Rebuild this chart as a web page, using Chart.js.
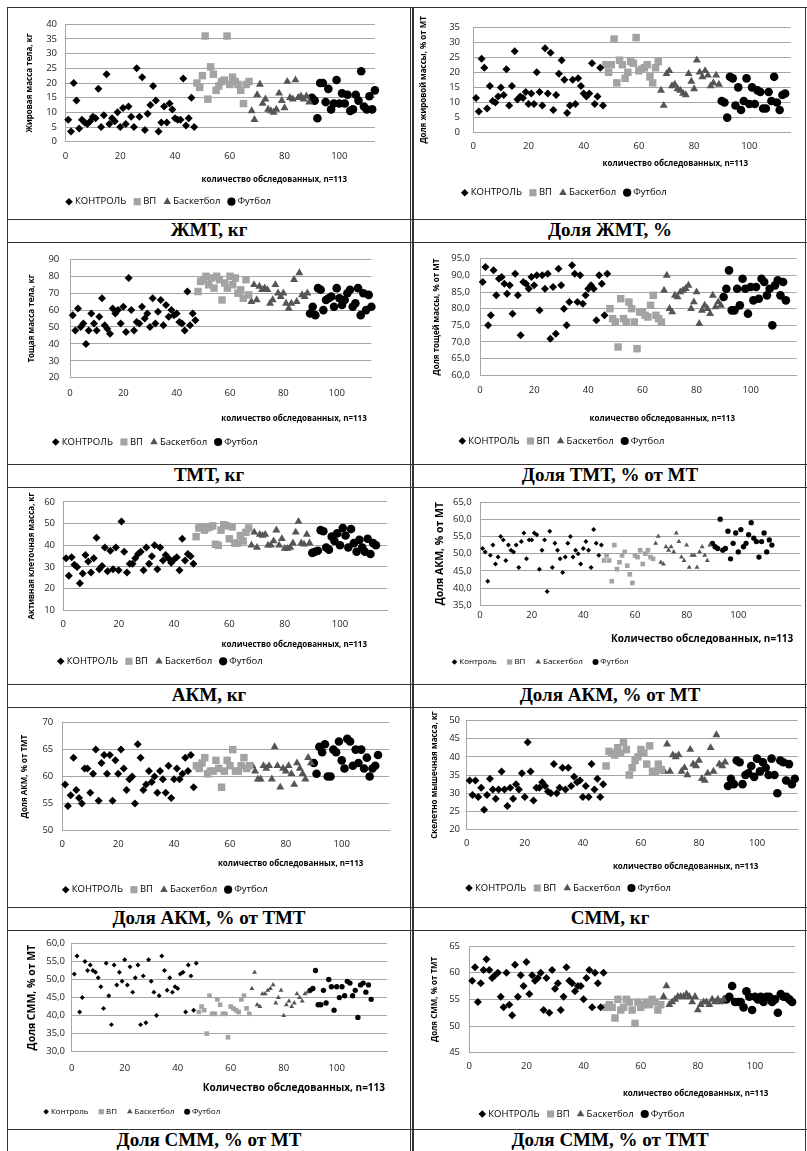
<!DOCTYPE html>
<html>
<head>
<meta charset="utf-8">
<script src="https://cdn.jsdelivr.net/npm/chart.js@4.4.1/dist/chart.umd.min.js"></script>
<style>
  body { margin: 0; background: #fff; }
  #page { position: relative; width: 807px; height: 1151px; overflow: hidden; background: #fff; }
  .ln { position: absolute; background: #333; }
  .cap { position: absolute; font: bold 19px "Liberation Serif", "Times New Roman", serif; color: #000; text-align: center; line-height: 20px; }
  canvas { position: absolute; }
</style>
</head>
<body>
<div id="page"></div>
<script>
// groups
const groupLabels = ['КОНТРОЛЬ', 'ВП', 'Баскетбол', 'Футбол'];
const groupLabelsLower = ['Контроль', 'ВП', 'Баскетбол', 'Футбол'];

// ЖМТ, кг
const zhmtKontrol = [7.5, 3.5, 20, 14, 4.5, 7.5, 6.5, 6, 7, 8.5, 8, 18, 5, 9, 23, 6, 8, 7, 10, 5, 11.5, 6, 12, 8.5, 5, 25, 8.5, 22, 4, 9.5, 12.5, 19, 14, 3.5, 6.5, 12, 6.5, 13, 11, 8, 7.5, 7.5, 21.5, 5.5, 8, 15, 5];
const zhmtVP = [20, 18.5, 22.5, 36, 14.5, 25.5, 23, 17.5, 19, 20.5, 21, 36, 19.5, 22, 20.5, 19.5, 17.5, 13, 19.5, 20.5];
const zhmtBasket = [10.5, 7.5, 16, 19.5, 13, 14.5, 11, 10.5, 10, 11, 16.5, 14, 11.5, 20.5, 15, 14.5, 21, 15, 15.5, 14.5, 15.5, 13.5];
const zhmtFutbol = [15, 14, 8, 20, 20, 13.5, 18, 11, 13, 21, 13, 16.5, 13, 16, 10.5, 11, 16, 14, 24, 12, 11, 15.5, 11, 17.5];

// Доля ЖМТ, %
const dZhmtKontrol = [11.5, 7, 24.5, 21.5, 8, 15.5, 10.5, 10, 12, 15, 12.5, 21, 9, 15.5, 27, 11, 12, 11.5, 13.5, 9.5, 13, 9.5, 20, 13.5, 9, 28, 13, 26.5, 7.5, 12.5, 19.5, 24, 17.5, 6.5, 9, 17.5, 9.5, 18, 15.5, 13, 12, 13, 23, 9.5, 12, 21.5, 9];
const dZhmtVP = [22.5, 20, 22.5, 31, 16.5, 24, 22.5, 18, 20, 23.5, 23, 31.5, 20.5, 21, 21.5, 22.5, 18.5, 16.5, 21.5, 23.5];
const dZhmtBasket = [14, 9, 19.5, 20.5, 15.5, 16, 14.5, 14, 13, 12.5, 19.5, 17, 14.5, 24, 20, 18.5, 20.5, 19, 15.5, 16.5, 19, 16];
const dZhmtFutbol = [10.5, 10, 5, 18.5, 18, 9, 15, 7.5, 10.5, 18, 9.5, 15, 9.5, 14, 13.5, 8, 8, 13.5, 10.5, 18.5, 10, 7.5, 12.5, 13];

// ТМТ, кг
const tmtKontrol = [57, 48, 61, 50, 52, 40, 48, 58, 52, 48, 56, 67, 51, 49, 46, 61, 58, 60, 52, 62, 47, 79, 60, 48, 53, 52, 62, 55, 58, 50, 67, 52, 59, 66, 51, 63, 56, 60, 57, 58, 53, 52, 48, 71, 51, 58, 54];
const tmtVP = [71, 77, 78, 80, 75, 79, 73, 80, 78, 66, 76, 73, 80, 75, 79, 70, 72, 67, 78, 69];
const tmtBasket = [65, 75, 66, 74, 72, 73, 72, 64, 66, 75, 70, 68, 70, 64, 61, 64, 78, 65, 82, 69, 68, 70];
const tmtFutbol = [58, 62, 57, 73, 72, 60, 66, 67, 68, 62, 73, 67, 63, 66, 70, 72, 62, 64, 73, 57, 70, 60, 69, 62];

// Доля ТМТ, % от МТ
const dTmtKontrol = [88, 92.5, 75, 78, 91.5, 84, 89, 89.5, 87.5, 84.5, 87, 78.5, 90.5, 84, 72, 88, 87.5, 86, 89.5, 87, 90, 79.5, 90, 86, 90.5, 71, 86.5, 72.5, 92, 87, 80, 75, 82, 93, 90.5, 82, 90, 81.5, 84, 86, 87, 86, 76.5, 90, 87.5, 78, 90.5];
const dTmtVP = [80, 77, 76, 68.5, 83, 77, 76, 82, 80, 76, 68, 79, 79, 78, 77.5, 81, 84, 78, 77, 76];
const dTmtBasket = [85.5, 90, 80, 79, 84, 83.5, 85, 85.5, 86, 87, 80, 82, 85, 75.5, 79.5, 81, 80, 78.5, 84, 80.5, 82, 81];
const dTmtFutbol = [83.5, 86, 91.5, 79.5, 79.5, 86, 81, 89, 86, 78.5, 86.5, 82.5, 86.5, 83, 89, 88, 84, 86, 75, 87, 88.5, 84, 88, 82.5];

// АКМ, кг
const akmKontrol = [34, 26, 34.5, 31, 30, 22.5, 27, 35.5, 32.5, 27.5, 34, 43.5, 29, 30.5, 39, 28, 37.5, 29, 39, 28.5, 51, 37, 27.5, 31.5, 31.5, 34, 36, 37, 28.5, 39, 31.5, 35, 40, 29, 39, 33, 35.5, 34, 32, 33.5, 34.5, 28.5, 43, 33, 36, 35, 31.5];
const akmVP = [44, 48, 48.5, 47, 48, 48.5, 49, 40.5, 40, 47, 49.5, 49, 43, 48.5, 41, 41, 44.5, 42, 46, 48];
const akmBasket = [40, 46, 39, 45, 44.5, 45, 40, 40, 42, 47, 40, 43, 38.5, 38.5, 39, 41, 46, 51, 41, 40.5, 45, 41];
const akmFutbol = [36.5, 37, 37.5, 47, 46.5, 39, 38, 44, 42, 45.5, 40, 48, 44.5, 39, 47.5, 41, 37, 42.5, 39, 37, 43, 36, 41, 40];

// Доля АКМ, % от МТ
const dAkmMtKontrol = [51.5, 50.5, 42, 49.5, 52.5, 47, 49, 55, 54, 48, 52.5, 51, 50.5, 52.5, 46, 53.5, 56, 48.5, 54, 54, 56, 55.5, 45.5, 51, 54, 39, 56.5, 46, 53, 51, 48.5, 44.5, 49, 53, 55, 49, 51, 50, 47, 51.5, 53.5, 51, 46, 57, 53, 49.5, 52.5];
const dAkmMtVP = [48, 49.5, 48, 42, 52.5, 45.5, 47.5, 49.5, 50.5, 46.5, 44, 41.5, 49.5, 49, 51, 47, 50, 51, 49, 48.5];
const dAkmMtBasket = [53, 55, 47.5, 47, 52, 51, 52, 50.5, 56, 53.5, 49, 48, 52.5, 46, 49.5, 49.5, 46, 50.5, 52, 49.5, 48, 52.5];
const dAkmMtFutbol = [53, 52, 51.5, 60, 51, 51.5, 56.5, 48.5, 53, 56, 50.5, 57, 52, 53, 55.5, 59, 54.5, 53.5, 49, 53.5, 56, 50.5, 54, 52.5];

// Доля АКМ, % от ТМТ
const dAkmTmtKontrol = [58.5, 54.5, 56.5, 63.5, 57.5, 56, 55, 61.5, 61.5, 57, 60.5, 65, 55.5, 62.5, 64, 60.5, 64, 55.5, 63, 60.5, 65, 61.5, 57.5, 59.5, 60, 55, 66, 63.5, 57.5, 58.5, 61, 59, 60, 57, 61, 59.5, 57, 62, 56, 59.5, 61.5, 59.5, 60.5, 63.5, 61, 64, 58];
const dAkmTmtVP = [62, 61.5, 62.5, 63.5, 60.5, 61, 61, 63, 61.5, 58, 61, 63, 62, 65, 61, 61, 62, 63.5, 61.5, 62];
const dAkmTmtBasket = [62, 61, 59.5, 59.5, 62, 61.5, 62, 59.5, 65.5, 62, 58, 61.5, 61, 62, 60.5, 58.5, 62.5, 61.5, 60.5, 59.5, 63.5, 62.5];
const dAkmTmtFutbol = [62.5, 60.5, 65.5, 64.5, 66, 60, 60, 65, 64.5, 66.5, 63, 61.5, 67, 66.5, 62, 65, 62.5, 65, 61.5, 63.5, 60, 61.5, 62, 64];

// СММ, кг
const smmKontrol = [33.5, 29.5, 33.5, 29, 31.5, 25.5, 29.5, 34, 31, 28.5, 31, 36, 31, 26.5, 31.5, 28.5, 32.5, 31, 35.5, 29, 44, 36, 28, 31.5, 31.5, 33, 32, 30.5, 30, 38, 30, 31.5, 37, 31, 37, 32, 34.5, 33, 33.5, 29, 32, 29, 38, 31, 34, 29, 32.5];
const smmVP = [37.5, 41.5, 41, 40.5, 42.5, 41, 44, 42, 35, 37, 39, 40, 42, 41, 38, 43, 36, 36, 38, 36.5];
const smmBasket = [36, 43.5, 36, 40.5, 40, 40.5, 36, 37, 35, 42, 38, 37.5, 39, 34, 33.5, 35.5, 42.5, 36, 46, 38, 37.5, 38.5];
const smmFutbol = [32, 34, 32.5, 39, 38.5, 32.5, 35, 35.5, 37.5, 34.5, 39.5, 36, 38.5, 37, 35, 39.5, 35, 30, 39, 38.5, 33.5, 38, 32.5, 34];

// Доля СММ, % от МТ
const dSmmMtKontrol = [51.5, 56.5, 41, 45, 55, 52.5, 54, 52.5, 52, 50.5, 48, 42, 54.5, 45.5, 37.5, 54, 48.5, 52, 49.5, 55.5, 48.5, 53.5, 46.5, 50.5, 54, 37.5, 51, 38, 55.5, 49.5, 46.5, 40, 45.5, 56.5, 52.5, 47, 50.5, 46.5, 48, 47.5, 51.5, 52, 41, 54, 51, 41.5, 54.5];
const dSmmMtVP = [41, 42.5, 41.5, 35, 45.5, 40.5, 40.5, 44.5, 43, 40.5, 40.5, 34, 42.5, 42, 41.5, 41, 44.5, 45.5, 42, 40.5];
const dSmmMtBasket = [47.5, 52, 43, 42.5, 46, 46, 47, 47.5, 48.5, 43.5, 45, 47, 40, 43, 44, 42.5, 43.5, 46, 45, 44, 46, 46.5];
const dSmmMtFutbol = [47, 47.5, 52.5, 43, 43, 47, 43.5, 50, 48, 41.5, 48, 45, 48, 45.5, 49.5, 49, 45.5, 47, 39.5, 48.5, 49, 46.5, 48.5, 44.5];

// Доля СММ, % от ТМТ
const dSmmTmtKontrol = [58.5, 61, 54.5, 58, 60.5, 62.5, 60.5, 59, 59.5, 60, 55.5, 53.5, 60, 54, 52, 61.5, 55.5, 59.5, 57.5, 62, 56, 59.5, 58.5, 59, 60, 53, 59, 52.5, 60.5, 57, 58, 53, 55.5, 61, 58.5, 58, 56.5, 57.5, 57.5, 55, 59, 60.5, 53.5, 60, 58, 53.5, 60];
const dSmmTmtVP = [53.5, 54, 53.5, 51.5, 55, 53, 53.5, 55, 54.5, 53, 50.5, 54.5, 53.5, 54, 54.5, 54, 55, 54.5, 53, 54];
const dSmmTmtBasket = [55.5, 57.5, 54, 54.5, 55, 55.5, 55.5, 55.5, 56, 55.5, 54.5, 55.5, 53, 54, 54.5, 54.5, 54, 55, 54.5, 55, 54.5, 55];
const dSmmTmtFutbol = [55, 55.5, 57.5, 54.5, 54.5, 54.5, 53.5, 56.5, 55.5, 53, 55.5, 55, 55.5, 54.5, 55.5, 55.5, 54.5, 55, 52.5, 56, 55.5, 55.5, 55, 54.5];

const xTitleLower = 'количество обследованных, n=113';
const xTitleUpper = 'Количество обследованных, n=113';

const charts = [
  { caption: 'ЖМТ, кг', yTitle: 'Жировая масса тела, кг', yMin: 0, yMax: 40, yStep: 5, series: [zhmtKontrol, zhmtVP, zhmtBasket, zhmtFutbol] },
  { caption: 'Доля ЖМТ, %', yTitle: 'Доля жировой массы, % от МТ', yMin: 0, yMax: 35, yStep: 5, series: [dZhmtKontrol, dZhmtVP, dZhmtBasket, dZhmtFutbol] },
  { caption: 'ТМТ, кг', yTitle: 'Тощая масса тела, кг', yMin: 20, yMax: 90, yStep: 10, series: [tmtKontrol, tmtVP, tmtBasket, tmtFutbol] },
  { caption: 'Доля ТМТ, % от МТ', yTitle: 'Доля тощей массы, % от МТ', yMin: 60, yMax: 95, yStep: 5, dec: true, series: [dTmtKontrol, dTmtVP, dTmtBasket, dTmtFutbol] },
  { caption: 'АКМ, кг', yTitle: 'Активная клеточная масса, кг', yMin: 10, yMax: 60, yStep: 10, series: [akmKontrol, akmVP, akmBasket, akmFutbol] },
  { caption: 'Доля АКМ, % от МТ', yTitle: 'Доля АКМ, % от МТ', yMin: 35, yMax: 65, yStep: 5, dec: true, small: true, series: [dAkmMtKontrol, dAkmMtVP, dAkmMtBasket, dAkmMtFutbol] },
  { caption: 'Доля АКМ, % от ТМТ', yTitle: 'Доля АКМ, % от ТМТ', yMin: 50, yMax: 70, yStep: 5, series: [dAkmTmtKontrol, dAkmTmtVP, dAkmTmtBasket, dAkmTmtFutbol] },
  { caption: 'СММ, кг', yTitle: 'Скелетно мышечная масса, кг', yMin: 20, yMax: 50, yStep: 5, series: [smmKontrol, smmVP, smmBasket, smmFutbol] },
  { caption: 'Доля СММ, % от МТ', yTitle: 'Доля СММ, % от МТ', yMin: 30, yMax: 60, yStep: 5, dec: true, small: true, series: [dSmmMtKontrol, dSmmMtVP, dSmmMtBasket, dSmmMtFutbol] },
  { caption: 'Доля СММ, % от ТМТ', yTitle: 'Доля СММ, % от ТМТ', yMin: 45, yMax: 65, yStep: 5, series: [dSmmTmtKontrol, dSmmTmtVP, dSmmTmtBasket, dSmmTmtFutbol] },
];

// page geometry (pixels in the 807x1151 page)
const colX = [[8, 410], [414, 806]];
const rowTops = [8, 243, 488, 708, 931];
const seps = [219, 464, 684, 907, 1129];
const capY = [230, 475, 695, 918, 1140];

const layouts = [
  { c: 0, r: 0, L: 65.5, T: 24.3, B: 141.7, X100: 339.3, xmax: 113, tickR: 57, yTX: 29.3, xTY: 156.7, xTitY: 180, xTitR: 347, legY: 201.7, legX: 65 },
  { c: 1, r: 0, L: 473.3, T: 20.7, B: 132.7, X100: 749.3, xmax: 115, tickR: 460, yTX: 423.3, xTY: 146.7, xTitY: 164, xTitR: 748, legY: 192.7, legX: 460.7 },
  { c: 0, r: 1, L: 70, T: 252, B: 377.7, X100: 336.7, xmax: 113, tickR: 59.3, yTX: 31.7, xTY: 393.7, xTitY: 418.7, xTitR: 366.7, legY: 442, legX: 51.7 },
  { c: 1, r: 1, L: 480, T: 258, B: 375.3, X100: 753.3, xmax: 117, tickR: 470, yTX: 436.7, xTY: 390.3, xTitY: 418.7, xTitR: 735, legY: 441, legX: 458.3 },
  { c: 0, r: 2, L: 63.3, T: 500.3, B: 610.3, X100: 340, xmax: 117, tickR: 55, yTX: 31.7, xTY: 624.7, xTitY: 644.7, xTitR: 367, legY: 661.3, legX: 56.7 },
  { c: 1, r: 2, L: 480, T: 497, B: 605.3, X100: 738.3, xmax: 124, tickR: 471.7, yTX: 440, xTY: 615.3, xTitY: 638.7, xTitR: 793.3, legY: 662, legX: 451.7 },
  { c: 0, r: 3, L: 62.3, T: 719.7, B: 830.3, X100: 341.7, xmax: 117, tickR: 53.3, yTX: 25, xTY: 844.7, xTitY: 863.7, xTitR: 363.3, legY: 889.7, legX: 61.7 },
  { c: 1, r: 3, L: 466.7, T: 718.7, B: 829.7, X100: 757.3, xmax: 114, tickR: 460, yTX: 435, xTY: 843.7, xTitY: 866.3, xTitR: 758.3, legY: 888, legX: 465 },
  { c: 0, r: 4, L: 71.7, T: 942.7, B: 1051.7, X100: 336.7, xmax: 119, tickR: 65, yTX: 31.7, xTY: 1068.3, xTitY: 1088.3, xTitR: 385, legY: 1111.7, legX: 43.3 },
  { c: 1, r: 4, L: 469.3, T: 941.7, B: 1052.7, X100: 755, xmax: 114, tickR: 460, yTX: 435, xTY: 1066.7, xTitY: 1094, xTitR: 768.3, legY: 1114, legX: 478.3 },
];

// marker looks per group: diamond, square, triangle, circle
const markStyle = ['rectRot', 'rect', 'triangle', 'circle'];
const markColor = ['#000000', '#a3a3a3', '#555555', '#000000'];
const markSize = [4, 5.3, 4.6, 4.3];

Chart.defaults.font.family = '"Open Sans", "Liberation Sans", sans-serif';
Chart.defaults.color = '#222';

const page = document.getElementById('page');

function line(x, y, w, h) {
  const d = document.createElement('div');
  d.className = 'ln';
  d.style.left = x + 'px'; d.style.top = y + 'px';
  d.style.width = w + 'px'; d.style.height = h + 'px';
  page.appendChild(d);
}

// table frame
line(7, 7, 800, 1);
line(7, 7, 1, 1144);
line(805, 7, 1, 1144);
line(410, 7, 1, 1144);
line(412, 7, 2, 1144);
rowTops.slice(1).forEach(y => line(7, y - 1, 800, 1));
seps.forEach(y => line(7, y, 800, 1));

function drawMark(ctx, style, r, x, y) {
  Chart.helpers.drawPoint(ctx, { pointStyle: style, radius: r, borderWidth: 0, rotation: 0 }, x, y);
}

// x-axis title and legend, placed where the original puts them
const decor = {
  id: 'decor',
  afterDraw(chart, args, o) {
    const ctx = chart.ctx;
    ctx.save();
    ctx.textBaseline = 'middle';
    ctx.fillStyle = '#000';
    ctx.font = o.xFont;
    ctx.textAlign = 'right';
    ctx.fillText(o.xTitle, o.xTitR, o.xTitY);
    ctx.font = o.legFont;
    ctx.textAlign = 'left';
    let x = o.legX;
    chart.data.datasets.forEach((ds, i) => {
      ctx.fillStyle = ds.backgroundColor;
      drawMark(ctx, ds.pointStyle, markSize[i] * o.legScale, x + o.legR, o.legY);
      ctx.fillStyle = '#000';
      ctx.fillText(ds.label, x + 2 * o.legR + 2, o.legY);
      x += 2 * o.legR + 2 + ctx.measureText(ds.label).width + o.legSpace;
    });
    ctx.restore();
  }
};

const XH = 20;
const tickFont = 9.5;

charts.forEach((cfg, k) => {
  const g = layouts[k];
  const x0 = colX[g.c][0], w = colX[g.c][1] - colX[g.c][0];
  const y0 = rowTops[g.r], h = seps[g.r] - rowTops[g.r];
  const plotRight = g.L + (g.X100 - g.L) * g.xmax / 100;
  const small = !!cfg.small;
  const yTitleSize = small ? 10.5 : 8;
  const labels = small ? groupLabelsLower : groupLabels;

  const canvas = document.createElement('canvas');
  canvas.width = w; canvas.height = h;
  canvas.style.left = x0 + 'px'; canvas.style.top = y0 + 'px';
  canvas.style.width = w + 'px'; canvas.style.height = h + 'px';
  page.appendChild(canvas);

  let offset = 0;
  const datasets = cfg.series.map((vals, i) => {
    const start = offset;
    offset += vals.length;
    return {
      label: labels[i],
      data: vals.map((v, j) => ({ x: start + j + 1, y: v })),
      pointStyle: markStyle[i],
      backgroundColor: markColor[i],
      borderWidth: 0,
      pointRadius: markSize[i] * (small ? 0.62 : 1),
      clip: false
    };
  });

  new Chart(canvas, {
    type: 'scatter',
    data: { datasets },
    options: {
      responsive: false,
      animation: false,
      devicePixelRatio: 1,
      layout: { padding: { left: 0, top: g.T - y0, right: x0 + w - plotRight, bottom: y0 + h - g.B - XH } },
      plugins: {
        legend: { display: false },
        tooltip: { enabled: false },
        decor: {
          xTitle: small ? xTitleUpper : xTitleLower,
          xFont: 'bold ' + (small ? 10 : 8) + 'px "Open Sans", sans-serif',
          xTitR: g.xTitR - x0, xTitY: g.xTitY - y0,
          legFont: (small ? 8 : 9.5) + 'px "Open Sans", sans-serif',
          legX: g.legX - x0, legY: g.legY - y0,
          legR: small ? 2.8 : 4, legScale: small ? 0.7 : 0.95, legSpace: small ? 10 : 7
        }
      },
      scales: {
        x: {
          type: 'linear', min: 0, max: g.xmax,
          grid: { display: false, drawTicks: false },
          border: { display: true, color: '#a6a6a6' },
          ticks: {
            stepSize: 20,
            font: { size: tickFont },
            padding: g.xTY - g.B - tickFont * 0.6,
            maxRotation: 0,
            callback: v => (v % 20 === 0 ? String(v) : '')
          },
          afterFit: s => { s.height = XH; }
        },
        y: {
          min: cfg.yMin, max: cfg.yMax,
          grid: { color: '#a6a6a6', drawTicks: false },
          border: { display: true, color: '#a6a6a6' },
          ticks: {
            stepSize: cfg.yStep,
            font: { size: tickFont },
            padding: g.L - g.tickR,
            callback: v => (cfg.dec ? v.toFixed(1).replace('.', ',') : String(v))
          },
          title: {
            display: true,
            text: cfg.yTitle,
            color: '#000',
            font: { size: yTitleSize, weight: 'bold' },
            padding: { top: g.yTX - x0 - yTitleSize * 0.6, bottom: 0 }
          },
          afterFit: s => { s.width = g.L - x0; }
        }
      }
    },
    plugins: [decor]
  });

  const cap = document.createElement('div');
  cap.className = 'cap';
  cap.textContent = cfg.caption;
  cap.style.left = x0 + 'px';
  cap.style.width = w + 'px';
  cap.style.top = (capY[g.r] - 10) + 'px';
  page.appendChild(cap);
});
</script>
</body>
</html>
